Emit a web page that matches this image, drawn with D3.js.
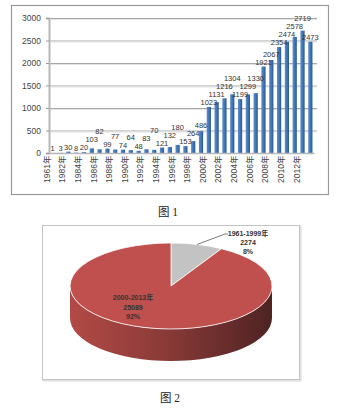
<!DOCTYPE html>
<html><head><meta charset="utf-8">
<script src="https://cdn.jsdelivr.net/npm/d3@7"></script>
<style>
html,body{margin:0;padding:0;background:#fff;}
svg{display:block;}
</style></head>
<body>
<svg id="c" width="350" height="409"></svg>
<script>
// ---- data ----
const years = ["1961","1981","1982","1983","1984","1985","1986","1987","1988","1989","1990","1991","1992","1993","1994","1995","1996","1997","1998","1999","2000","2001","2002","2003","2004","2005","2006","2007","2008","2009","2010","2011","2012","2013"];
const counts = [1,3,30,8,20,103,82,99,77,74,64,48,83,70,121,132,180,153,264,486,1023,1131,1216,1304,1199,1299,1330,1921,2067,2354,2474,2578,2719,2473];
const yTicks = [0,500,1000,1500,2000,2500,3000];
const pieNames = ["1961-1999年","2000-2013年"];
const pieValues = [2274,25089];
const piePercents = ["8%","92%"];
const captions = ["图 1","图 2"];

const svg = d3.select("#c");
const defs = svg.append("defs");

// ---------- Figure 1: bar chart ----------
svg.append("rect").attr("x",11.5).attr("y",5.5).attr("width",317).attr("height",189)
  .attr("fill","#fff").attr("stroke","#9a9a9a").attr("stroke-width",1.2);

const x = d3.scaleBand().domain(years).range([49,314]).paddingInner(0.46).paddingOuter(0.2);
const y = d3.scaleLinear().domain([0,3000]).range([153,18]);

const barGrad = defs.append("linearGradient").attr("id","bg").attr("x1",0).attr("x2",1).attr("y1",0).attr("y2",0);
barGrad.append("stop").attr("offset","0%").attr("stop-color","#5a8fcf");
barGrad.append("stop").attr("offset","55%").attr("stop-color","#3f74b5");
barGrad.append("stop").attr("offset","100%").attr("stop-color","#2a568c");

// gridlines
svg.append("g").selectAll("line").data(yTicks.filter(d=>d>0)).join("line")
  .attr("x1",49).attr("x2",317).attr("y1",d=>y(d)+0.5).attr("y2",d=>y(d)+0.5)
  .attr("stroke","#a8a8a8").attr("stroke-width",1);
svg.append("g").selectAll("line").data(yTicks.filter(d=>d>0)).join("line")
  .attr("x1",49).attr("x2",317).attr("y1",d=>y(d)+1.5).attr("y2",d=>y(d)+1.5)
  .attr("stroke","#e4e4e4").attr("stroke-width",1);

// y axis
const yAxis = d3.axisLeft(y).tickValues(yTicks).tickSize(3).tickPadding(5).tickFormat(d3.format("d"));
const ya = svg.append("g").attr("transform","translate(49,0)").call(yAxis);
ya.select(".domain").attr("stroke","#b8b8b8").attr("stroke-width",2);
ya.selectAll(".tick line").attr("stroke","#9a9a9a");
ya.selectAll(".tick text").attr("font-family","'Liberation Sans',Arial,sans-serif").attr("font-size",8.5).attr("fill","#444");

// bars
svg.append("g").selectAll("rect").data(counts).join("rect")
  .attr("x",(d,i)=>x(years[i])).attr("width",x.bandwidth())
  .attr("y",d=>y(d)).attr("height",d=>y(0)-y(d))
  .attr("fill","url(#bg)");

// x axis
const xAxis = d3.axisBottom(x).tickSize(0).tickPadding(3)
  .tickValues(years.filter((d,i)=>i%2===0)).tickFormat(d=>d+"年");
const xa = svg.append("g").attr("transform","translate(0,153)").call(xAxis);
xa.select(".domain").attr("stroke","#b8b8b8").attr("stroke-width",1.5);
xa.selectAll(".tick text").attr("font-family","'Liberation Sans','Noto Sans CJK SC',sans-serif")
  .attr("font-size",8.5).attr("fill","#444")
  .attr("transform","rotate(-90)").attr("text-anchor","end").attr("dx","-0.3em").attr("dy","-0.35em").attr("x",0).attr("y",0);

// value labels, nudged upward when they would collide with the previous label
const fs = 7.5, cw = fs*0.56, lh = fs+0.5;
const placed = [];
counts.forEach((d,i)=>{
  const cxl = x(years[i])+x.bandwidth()/2;
  const w = String(d).length*cw;
  let ly = y(d)-2;
  for (let k=0;k<6;k++){
    const hit = placed.find(p=>Math.abs(p.x-cxl) < (p.w+w)/2 && Math.abs(p.y-ly) < lh);
    if (!hit) break;
    ly = hit.y - lh;
  }
  placed.push({x:cxl,y:ly,w:w,v:d});
});
svg.append("g").selectAll("text").data(placed).join("text")
  .attr("x",p=>p.x).attr("y",p=>p.y)
  .attr("text-anchor","middle")
  .attr("font-family","'Liberation Sans',Arial,sans-serif").attr("font-size",fs).attr("fill","#333")
  .text(p=>p.v);

// caption 1
svg.append("text").attr("x",168).attr("y",216).attr("text-anchor","middle")
  .attr("font-family","'Liberation Serif','Noto Sans CJK SC',serif").attr("font-size",11.5).attr("fill","#222")
  .text(captions[0]);

// ---------- Figure 2: 3D pie ----------
svg.append("rect").attr("x",43.5).attr("y",226.5).attr("width",257).attr("height",154)
  .attr("fill","none").attr("stroke","#e0e0e0").attr("stroke-width",2);
svg.append("rect").attr("x",42.5).attr("y",225.5).attr("width",257).attr("height",154)
  .attr("fill","#fff").attr("stroke","#c4c4c4").attr("stroke-width",1);

const cx = 171, cy = 286, rx = 101, ry = 43, depth = 32;
const pie = d3.pie().sort(null).value(d=>d)(pieValues);
const arcU = d3.arc().innerRadius(0).outerRadius(1);

const sideGrad = defs.append("linearGradient").attr("id","sg").attr("x1",0).attr("x2",1).attr("y1",0).attr("y2",0);
sideGrad.append("stop").attr("offset","0%").attr("stop-color","#b24a46");
sideGrad.append("stop").attr("offset","45%").attr("stop-color","#8c3b38");
sideGrad.append("stop").attr("offset","100%").attr("stop-color","#4e2323");

const g = svg.append("g").attr("transform",`translate(${cx},${cy}) scale(${rx},${ry})`);
const p = d3.path();
const dU = depth/ry;
p.moveTo(1,0);
p.arc(0,0,1,0,Math.PI,false);
p.lineTo(-1,dU);
p.arc(0,dU,1,Math.PI,0,true);
p.closePath();
g.append("path").attr("d",p.toString()).attr("fill","url(#sg)");

const sliceColors = ["#c3c3c3","#c0504d"];
g.selectAll("path.s").data(pie).join("path").attr("class","s")
  .attr("d",arcU).attr("fill",(d,i)=>sliceColors[i])
  .attr("stroke","#fff").attr("stroke-width",0.8).attr("vector-effect","non-scaling-stroke");

const lblFont = "'Liberation Sans',Arial,'Noto Sans CJK SC',sans-serif";
function ept(a, f){ return [cx + rx*f*Math.sin(a), cy - ry*f*Math.cos(a)]; }
const a0 = (pie[0].startAngle+pie[0].endAngle)/2;
const pStart = ept(a0, 1.0);
svg.append("polyline")
  .attr("points",[pStart,[225,234],[228,234]].map(q=>q.join(",")).join(" "))
  .attr("fill","none").attr("stroke","#444").attr("stroke-width",0.7);
const t1 = svg.append("text").attr("font-family",lblFont).attr("font-size",7).attr("font-weight","bold").attr("fill","#333").attr("text-anchor","middle");
[pieNames[0], String(pieValues[0]), piePercents[0]].forEach((s,i)=>{
  t1.append("tspan").attr("x",248).attr("y",236+i*9).text(s);
});
const t2 = svg.append("text").attr("font-family",lblFont).attr("font-size",7).attr("font-weight","bold").attr("fill","#333").attr("text-anchor","middle");
[pieNames[1], String(pieValues[1]), piePercents[1]].forEach((s,i)=>{
  t2.append("tspan").attr("x",133).attr("y",300+i*9.5).text(s);
});

svg.append("text").attr("x",170).attr("y",402).attr("text-anchor","middle")
  .attr("font-family","'Liberation Serif','Noto Sans CJK SC',serif").attr("font-size",11.5).attr("fill","#222")
  .text(captions[1]);
</script>
</body></html>
